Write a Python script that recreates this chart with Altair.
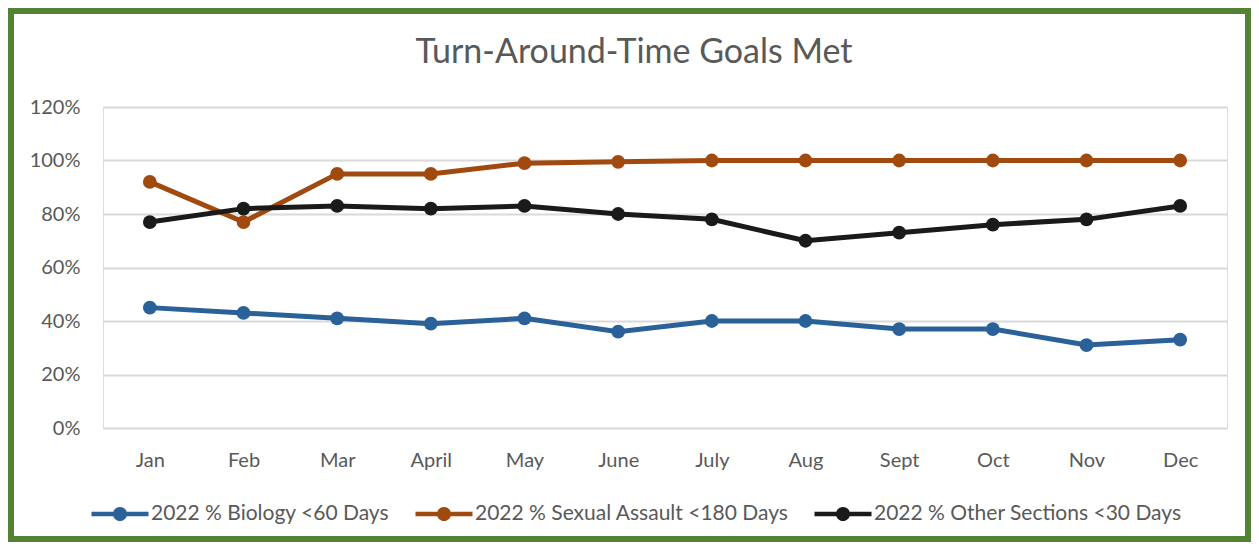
import altair as alt
import pandas as pd

title_text = "Turn-Around-Time Goals Met"
months = ["Jan", "Feb", "Mar", "April", "May", "June", "July", "Aug", "Sept", "Oct", "Nov", "Dec"]
series_names = ["2022 % Biology <60 Days", "2022 % Sexual Assault <180 Days", "2022 % Other Sections <30 Days"]
biology = [45, 43, 41, 39, 41, 36, 40, 40, 37, 37, 31, 33]
sexual_assault = [92, 77, 95, 95, 99, 99.5, 100, 100, 100, 100, 100, 100]
other_sections = [77, 82, 83, 82, 83, 80, 78, 70, 73, 76, 78, 83]
colors = ["#2A6199", "#A14A10", "#1A1A1A"]

rows = []
for name, vals in zip(series_names, [biology, sexual_assault, other_sections]):
    for m, v in zip(months, vals):
        rows.append({"Month": m, "Series": name, "Value": v / 100.0})
df = pd.DataFrame(rows)

FONT = "Lato"
GREY = "#595959"

legend_symbol = (
    "M -1.9 -0.15 L 1.9 -0.15 L 1.9 0.15 L -1.9 0.15 Z "
    "M 0.47 0 A 0.47 0.47 0 1 1 -0.47 0 A 0.47 0.47 0 1 1 0.47 0 Z"
)

color = alt.Color(
    "Series:N",
    scale=alt.Scale(domain=series_names, range=colors),
    sort=series_names,
    legend=alt.Legend(
        title=None,
        orient="none",
        direction="horizontal",
        legendX=2,
        legendY=392,
        symbolType=legend_symbol,
        symbolSize=900,
        symbolStrokeWidth=0,
        labelFont=FONT,
        labelFontSize=21,
        labelColor=GREY,
        columnPadding=25,
        labelOffset=16,
        labelLimit=400,
    ),
)

x = alt.X(
    "Month:N",
    sort=months,
    scale=alt.Scale(paddingInner=0, paddingOuter=0),
    axis=alt.Axis(
        title=None, labelAngle=0, ticks=False, domain=False,
        labelFont=FONT, labelFontSize=20, labelColor=GREY, labelPadding=22,
    ),
)
y = alt.Y(
    "Value:Q",
    scale=alt.Scale(domain=[0, 1.2], nice=False),
    axis=alt.Axis(
        title=None, format=".0%", values=[0, 0.2, 0.4, 0.6, 0.8, 1.0, 1.2],
        ticks=False, domain=False, labelFont=FONT, labelFontSize=20,
        labelColor=GREY, labelPadding=23, gridColor="#D9D9D9", gridWidth=2,
    ),
)

lines = alt.Chart(df).mark_line(strokeWidth=5).encode(x=x, y=y, color=color)
points = alt.Chart(df).mark_point(filled=True, size=190, opacity=1).encode(x=x, y=y, color=color)

border = alt.Chart(pd.DataFrame({"a": [0]})).mark_rect(
    fill=None, stroke="#548235", strokeWidth=6
).encode(
    x=alt.value(-92), x2=alt.value(1145), y=alt.value(-96), y2=alt.value(432)
)

title = alt.Chart(pd.DataFrame({"t": [title_text]})).mark_text(
    font=FONT, fontSize=34, color=GREY, align="center", baseline="alphabetic"
).encode(text="t:N", x=alt.value(531), y=alt.value(-44))

chart = alt.layer(border, lines, points, title).properties(
    width=1124,
    height=321,
    autosize=alt.AutoSizeParams(type="none"),
    padding={"left": 95, "top": 99, "right": 24, "bottom": 114},
).configure_view(stroke=None).configure(background="white")

chart.save("out.html", embed_options={"renderer": "svg", "actions": False})
